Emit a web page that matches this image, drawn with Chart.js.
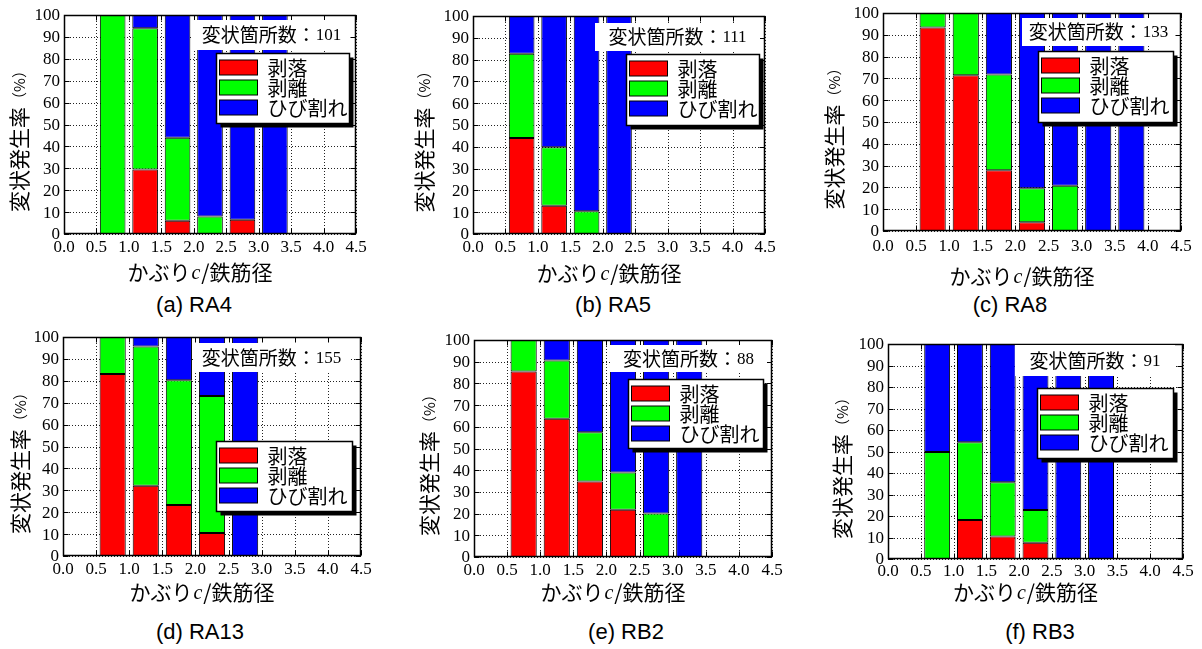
<!DOCTYPE html>
<html>
<head>
<meta charset="utf-8">
<script src="https://cdn.jsdelivr.net/npm/chart.js@4.4.1/dist/chart.umd.min.js"></script>
<style>
  body { margin: 0; background: #fff; width: 1202px; height: 649px; position: relative; overflow: hidden; }
  canvas { position: absolute; }
  .cap { position: absolute; font: 22px "Liberation Sans", Arial, sans-serif; color: #000;
         transform: translate(-50%, -50%); white-space: nowrap; }
</style>
</head>
<body>
<script>
// bin centres of cover / bar diameter (0.5 wide bins)
var binCenters = [0.75, 1.25, 1.75, 2.25, 2.75, 3.25, 3.75];
var seriesNames = ['剥落', '剥離', 'ひび割れ'];
var seriesColors = ['#ff0000', '#00ff00', '#0000ff'];
var panelNames = ['RA4', 'RA5', 'RA8', 'RA13', 'RB2', 'RB3'];
var panelLetters = ['a', 'b', 'c', 'd', 'e', 'f'];
var defectCounts = [101, 111, 133, 155, 88, 91];

// percentages per bin: 剥落 / 剥離 / ひび割れ
var ra4Spall = [0, 29.5, 6, 0, 6.5, 0];
var ra4Peel = [100, 64.5, 38, 8, 0, 0];
var ra4Crack = [0, 6, 56, 92, 93.5, 100];

var ra5Spall = [44, 13, 0, 0];
var ra5Peel = [38.7, 26.8, 10.4, 0];
var ra5Crack = [17.3, 60.2, 89.6, 100];

var ra8Spall = [93.4, 71.4, 27.9, 4.0, 0, 0, 0];
var ra8Peel = [6.6, 28.6, 43.9, 15.6, 20.8, 0, 0];
var ra8Crack = [0, 0, 28.2, 80.4, 79.2, 100, 100];

var ra13Spall = [83.1, 32.1, 23.3, 10.5, 0];
var ra13Peel = [16.9, 63.6, 56.9, 62.6, 0];
var ra13Crack = [0, 4.3, 19.8, 26.9, 100];

var rb2Spall = [85.5, 63.7, 34.8, 21.8, 0, 0];
var rb2Peel = [14.5, 26.8, 22.7, 17.1, 20, 0];
var rb2Crack = [0, 9.5, 42.5, 61.1, 80, 100];

var rb3Spall = [0, 18.1, 10.5, 7.6, 0, 0];
var rb3Peel = [49.8, 36.2, 25.2, 15.2, 0, 0];
var rb3Crack = [50.2, 45.7, 64.3, 77.2, 100, 100];

var panelData = [
  [ra4Spall, ra4Peel, ra4Crack],
  [ra5Spall, ra5Peel, ra5Crack],
  [ra8Spall, ra8Peel, ra8Crack],
  [ra13Spall, ra13Peel, ra13Crack],
  [rb2Spall, rb2Peel, rb2Crack],
  [rb3Spall, rb3Peel, rb3Crack]
];

// layout of each panel on the page (plot rect l,t,r,b) and its overlays
var panelStyles = [
  { plot: [64, 15, 356, 234],   box: { r: 6, t: 5, w: 157, h: 30 },  leg: { r: 7, t: 38, w: 133, h: 70 },  yt: -45, xt: 38, xl: 14, cap: [194, 305] },
  { plot: [473, 16, 765, 234],  box: { r: 5, t: 7, w: 165, h: 28 },  leg: { r: 6, t: 38, w: 133, h: 71 },  yt: -49, xt: 39, xl: 14, cap: [613, 305] },
  { plot: [883, 13, 1181, 231], box: { r: 6, t: 5, w: 153, h: 28 },  leg: { r: 8, t: 38, w: 135, h: 71 },  yt: -49, xt: 45, xl: 16, cap: [1010, 305] },
  { plot: [63, 337, 361, 556],  box: { r: 11, t: 6, w: 157, h: 29 }, leg: { r: 9, t: 104, w: 136, h: 70 }, yt: -43, xt: 36, xl: 14, cap: [200, 632] },
  { plot: [474, 340, 772, 557], box: { r: 5, t: 5, w: 157, h: 27 },  leg: { r: 9, t: 39, w: 135, h: 69 },  yt: -45, xt: 35, xl: 14, cap: [626, 632] },
  { plot: [888, 344, 1183, 559], box: { r: 8, t: 1, w: 160, h: 31 }, leg: { r: 10, t: 44, w: 136, h: 70 }, yt: -46, xt: 33, xl: 13, cap: [1040, 632] }
];

var Y_AXIS_W = 62, X_AXIS_H = 56, PAD_TOP = 12, PAD_RIGHT = 18;
var SERIF = '"Liberation Serif", serif';
var GOTHIC = '"Noto Sans CJK JP", sans-serif';

// dotted grid drawn under the bars
var gridPlugin = {
  id: 'dotGrid',
  beforeDatasetsDraw: function (chart) {
    var ctx = chart.ctx, a = chart.chartArea;
    var xs = chart.scales.x, ys = chart.scales.y;
    ctx.save();
    ctx.strokeStyle = '#222';
    ctx.lineWidth = 1;
    ctx.setLineDash([1, 2]);
    ctx.beginPath();
    ys.ticks.forEach(function (t) {
      var py = Math.round(ys.getPixelForValue(t.value)) + 0.5;
      ctx.moveTo(a.left, py); ctx.lineTo(a.right, py);
    });
    xs.ticks.forEach(function (t) {
      var px = Math.round(xs.getPixelForValue(t.value)) + 0.5;
      ctx.moveTo(px, a.top); ctx.lineTo(px, a.bottom);
    });
    ctx.stroke();
    ctx.restore();
  }
};

var decorPlugin = {
  id: 'decor',
  afterDatasetsDraw: function (chart, args, opts) {
    var ctx = chart.ctx, a = chart.chartArea, st = opts.style;
    var xs = chart.scales.x, ys = chart.scales.y;
    var L = Math.round(a.left) + 0.5, R = Math.round(a.right) - 0.5;
    var T = Math.round(a.top) + 0.5, B = Math.round(a.bottom) - 0.5;
    ctx.save();

    // inward ticks and frame
    ctx.strokeStyle = '#000';
    ctx.lineWidth = 1;
    ctx.beginPath();
    ys.ticks.forEach(function (t) {
      var py = Math.round(ys.getPixelForValue(t.value)) + 0.5;
      ctx.moveTo(L, py); ctx.lineTo(L + 5, py);
      ctx.moveTo(R, py); ctx.lineTo(R - 5, py);
    });
    xs.ticks.forEach(function (t) {
      var px = Math.round(xs.getPixelForValue(t.value)) + 0.5;
      ctx.moveTo(px, B); ctx.lineTo(px, B - 5);
      ctx.moveTo(px, T); ctx.lineTo(px, T + 5);
    });
    ctx.stroke();
    ctx.lineWidth = 1.5;
    ctx.strokeRect(L, T, R - L, B - T);
    ctx.lineWidth = 1;

    // tick labels from the scales' own ticks
    ctx.fillStyle = '#000';
    ctx.font = '17px ' + SERIF;
    ctx.textBaseline = 'middle';
    ctx.textAlign = 'right';
    ys.ticks.forEach(function (t) {
      ctx.fillText(t.label, a.left - 4, ys.getPixelForValue(t.value) + 1);
    });
    ctx.textAlign = 'center';
    xs.ticks.forEach(function (t) {
      ctx.fillText(t.label, xs.getPixelForValue(t.value), a.bottom + st.xl);
    });

    // count box
    var b = st.box;
    var bx = a.right - b.r - b.w, by = a.top + b.t;
    ctx.fillStyle = '#fff';
    ctx.fillRect(bx, by, b.w, b.h);
    var label = '変状箇所数：', num = String(opts.count);
    ctx.font = '19px ' + GOTHIC;
    var w1 = ctx.measureText(label).width;
    ctx.font = '17px ' + SERIF;
    var w2 = ctx.measureText(num).width;
    var tx = bx + (b.w - w1 - w2) / 2, ty = by + b.h / 2;
    ctx.fillStyle = '#000';
    ctx.textBaseline = 'middle';
    ctx.textAlign = 'left';
    ctx.font = '19px ' + GOTHIC;
    ctx.fillText(label, tx, ty);
    ctx.font = '17px ' + SERIF;
    ctx.fillText(num, tx + w1, ty + 1);

    // legend with drop shadow
    var g = st.leg;
    var lx = Math.round(a.right - g.r - g.w) + 0.5, ly = Math.round(a.top + g.t) + 0.5;
    ctx.fillStyle = '#000';
    ctx.fillRect(lx + 4, ly + 4, g.w, g.h);
    ctx.fillStyle = '#fff';
    ctx.fillRect(lx, ly, g.w, g.h);
    ctx.lineWidth = 1.5;
    ctx.strokeRect(lx, ly, g.w, g.h);
    ctx.lineWidth = 1;
    ctx.font = '20px ' + GOTHIC;
    chart.data.datasets.forEach(function (ds, i) {
      var cy = ly + 14 + i * 20;
      ctx.fillStyle = ds.backgroundColor;
      ctx.fillRect(lx + 3, cy - 7.5, 38, 15);
      ctx.strokeStyle = '#000';
      ctx.strokeRect(lx + 3, cy - 7.5, 38, 15);
      ctx.fillStyle = '#000';
      ctx.fillText(ds.label, lx + 51, cy + 1);
    });

    // y title
    ctx.save();
    ctx.translate(a.left + st.yt, (a.top + a.bottom) / 2 + 13);
    ctx.rotate(-Math.PI / 2);
    var y1 = '変状発生率', y2 = '（%）';
    ctx.font = '21px ' + GOTHIC;
    var yw1 = ctx.measureText(y1).width;
    ctx.font = '15px ' + GOTHIC;
    var yw2 = ctx.measureText(y2).width;
    var sx = -(yw1 + yw2) / 2;
    ctx.textBaseline = 'middle';
    ctx.font = '21px ' + GOTHIC;
    ctx.fillText(y1, sx, 0);
    ctx.font = '15px ' + GOTHIC;
    ctx.fillText(y2, sx + yw1, 0);
    ctx.restore();

    // x title: かぶり c /鉄筋径 (c in italic serif)
    var p1 = 'かぶり', p2 = 'c', p3 = '/鉄筋径';
    ctx.font = '21px ' + GOTHIC;
    var xw1 = ctx.measureText(p1).width, xw3 = ctx.measureText(p3).width;
    ctx.font = 'italic 20px ' + SERIF;
    var xw2 = ctx.measureText(p2).width + 2;
    var x0 = (a.left + a.right) / 2 - 10 - (xw1 + xw2 + xw3) / 2;
    var yy = a.bottom + st.xt;
    ctx.textBaseline = 'middle';
    ctx.textAlign = 'left';
    ctx.font = '21px ' + GOTHIC;
    ctx.fillText(p1, x0, yy);
    ctx.fillText(p3, x0 + xw1 + xw2, yy);
    ctx.font = 'italic 20px ' + SERIF;
    ctx.fillText(p2, x0 + xw1 + 1, yy + 2);

    ctx.restore();
  }
};

function points(vals) {
  return vals.map(function (v, i) { return { x: binCenters[i], y: v }; });
}

panelNames.forEach(function (name, k) {
  var st = panelStyles[k];
  var pl = st.plot;
  var w = Y_AXIS_W + (pl[2] - pl[0]) + PAD_RIGHT;
  var h = PAD_TOP + (pl[3] - pl[1]) + X_AXIS_H;

  var canvas = document.createElement('canvas');
  canvas.width = w;
  canvas.height = h;
  canvas.style.left = (pl[0] - Y_AXIS_W) + 'px';
  canvas.style.top = (pl[1] - PAD_TOP) + 'px';
  canvas.style.width = w + 'px';
  canvas.style.height = h + 'px';
  document.body.appendChild(canvas);

  var cap = document.createElement('div');
  cap.className = 'cap';
  cap.textContent = '(' + panelLetters[k] + ') ' + name;
  cap.style.left = st.cap[0] + 'px';
  cap.style.top = st.cap[1] + 'px';
  document.body.appendChild(cap);

  var datasets = panelData[k].map(function (vals, i) {
    return {
      label: seriesNames[i],
      data: points(vals),
      backgroundColor: seriesColors[i],
      borderColor: '#000',
      borderWidth: 1,
      borderSkipped: false,
      inflateAmount: 0,
      barPercentage: 1,
      categoryPercentage: 0.79
    };
  });

  new Chart(canvas.getContext('2d'), {
    type: 'bar',
    data: { datasets: datasets },
    options: {
      responsive: false,
      animation: false,
      devicePixelRatio: 1,
      layout: { padding: { left: 0, top: PAD_TOP, right: PAD_RIGHT, bottom: 0 } },
      plugins: {
        legend: { display: false },
        tooltip: { enabled: false },
        decor: { style: st, count: defectCounts[k] }
      },
      scales: {
        x: {
          type: 'linear',
          stacked: true,
          offset: false,
          min: 0,
          max: 4.5,
          afterFit: function (s) { s.height = X_AXIS_H; },
          ticks: {
            display: false,
            stepSize: 0.5,
            autoSkip: false,
            callback: function (v) { return Number(v).toFixed(1); }
          },
          grid: { display: false, offset: false },
          border: { display: false }
        },
        y: {
          stacked: true,
          min: 0,
          max: 100,
          afterFit: function (s) { s.width = Y_AXIS_W; },
          ticks: {
            display: false,
            stepSize: 10,
            autoSkip: false,
            callback: function (v) { return String(v); }
          },
          grid: { display: false },
          border: { display: false }
        }
      }
    },
    plugins: [gridPlugin, decorPlugin]
  });
});
</script>
</body>
</html>
